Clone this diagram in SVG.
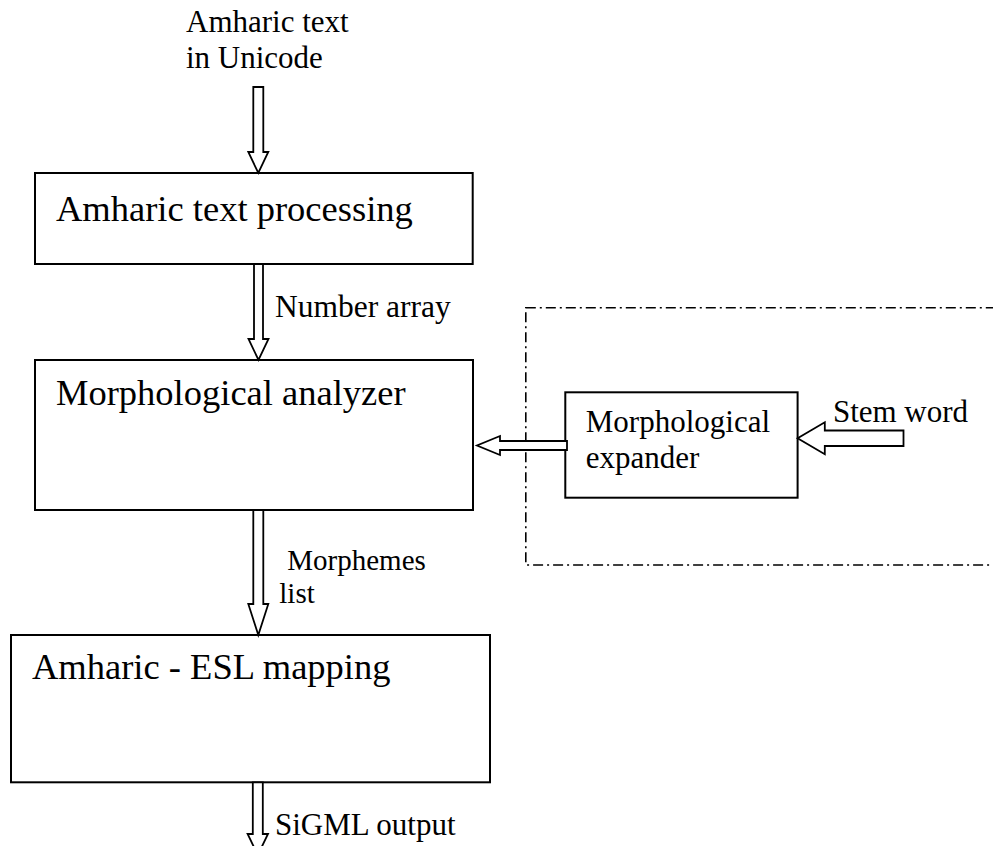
<svg xmlns="http://www.w3.org/2000/svg" width="993" height="846" viewBox="0 0 993 846">
<style>
.box{fill:#fff;stroke:#000;stroke-width:2}
.arrow{fill:#fff;stroke:#000;stroke-width:1.8;stroke-linejoin:miter}
.big{font-family:"Liberation Serif","Times New Roman",serif;font-size:36.5px;fill:#000}
.lbl{font-family:"Liberation Serif","Times New Roman",serif;font-size:31px;fill:#000}
.dd{fill:none;stroke:#000;stroke-width:1.6;stroke-dasharray:10 4 2 4}
</style>
<rect width="993" height="846" fill="#fff"/>
<g id="group-boundary">
<rect class="dd" x="525.8" y="307.7" width="480" height="257.3"/>
</g>
<g id="input-label">
<text class="lbl" x="186" y="31.7">Amharic text</text>
<text class="lbl" x="186" y="68.3">in Unicode</text>
</g>
<g id="text-processing">
<rect class="box" x="35" y="173" width="437.7" height="91"/>
<text class="big" x="56" y="221">Amharic text processing</text>
</g>
<g id="morph-analyzer">
<rect class="box" x="35" y="360" width="438" height="150"/>
<text class="big" x="56" y="405">Morphological analyzer</text>
</g>
<g id="morph-expander">
<rect class="box" x="565.3" y="392.3" width="232.3" height="105.4"/>
<text class="lbl" x="585.8" y="431.7">Morphological</text>
<text class="lbl" x="585.8" y="468.3">expander</text>
</g>
<g id="esl-mapping">
<rect class="box" x="11" y="635" width="479" height="147.3"/>
<text class="big" x="32" y="679.3">Amharic - ESL mapping</text>
</g>
<g id="connectors">
<polygon class="arrow" points="253.3,87 263.3,87 263.3,152 268.3,152 258.3,173 248.3,152 253.3,152"/>
<polygon class="arrow" points="254,264 263,264 263,339 268.5,339 258.5,360 248.5,339 254,339"/>
<text class="lbl" x="275" y="316.7" style="font-size:31.5px">Number array</text>
<polygon class="arrow" points="253.3,510 263.3,510 263.3,604 268.3,604 258.3,635 248.3,604 253.3,604"/>
<text class="lbl" x="287.3" y="570" style="font-size:29px">Morphemes</text>
<text class="lbl" x="279.3" y="603.3" style="font-size:29px">list</text>
<polygon class="arrow" points="252.8,782.3 262.8,782.3 262.8,834 268,834 257.8,855 247.6,834 252.8,834"/>
<text class="lbl" x="275" y="835">SiGML output</text>
<polygon class="arrow" points="567,441 500,441 500,436 477,445.5 500,455 500,450 567,450"/>
<polygon class="arrow" points="903.5,430.5 824.8,430.5 824.8,422.3 797.6,438.3 824.8,454.3 824.8,446 903.5,446"/>
<text class="lbl" x="832.9" y="421.7">Stem word</text>
</g>
</svg>
